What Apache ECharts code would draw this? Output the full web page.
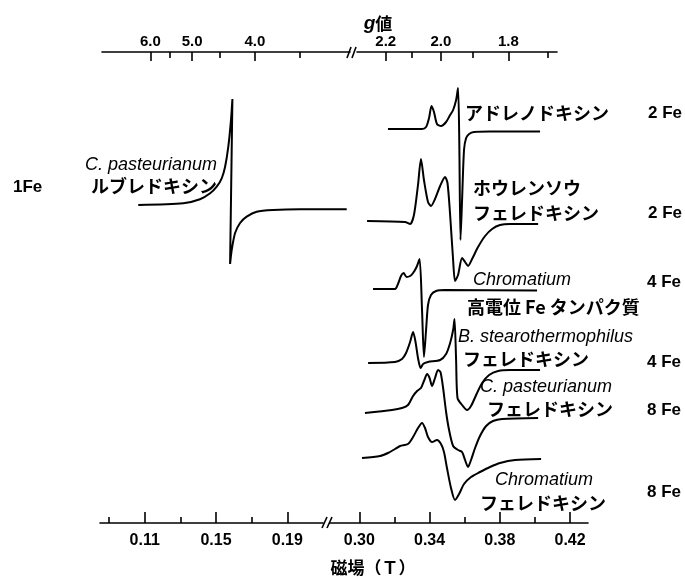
<!DOCTYPE html>
<html><head><meta charset="utf-8">
<script src="https://cdn.jsdelivr.net/npm/echarts@6/dist/echarts.min.js"></script>
<style>html,body{margin:0;padding:0;background:#fff}#c{width:685px;height:581px}</style>
</head><body><div id="c"></div>
<script>
// g·B product (T) for the top g-value axis
const gB = 0.6928;
// bottom axis ticks (T)
const fieldMajorLeft = [0.11, 0.15, 0.19];
const fieldMinorLeft = [0.09, 0.13, 0.17];
const fieldMajorRight = [0.30, 0.34, 0.38, 0.42];
const fieldMinorRight = [0.32, 0.36, 0.40];
// top axis g ticks
const gMajorLeft = [6.0, 5.0, 4.0];
const gMinorLeft = [5.5, 4.5, 3.5];
const gMajorRight = [2.2, 2.0, 1.8];
const gMinorRight = [2.1, 1.9, 1.7];

// spectra: [field (T), signal (arb. units)]
const rubredoxin = [[0.1064,0],[0.1317,1.7],[0.1410,5.7],[0.1467,11.7],[0.1504,18.3],[0.1532,26.7],[0.1551,38.3],[0.1569,58.3],[0.1584,85],[0.1592,106],[0.1579,-59],[0.1588,-45],[0.1607,-28],[0.1635,-18],[0.1672,-11.7],[0.1728,-6.7],[0.1820,-5],[0.1971,-4.3],[0.2233,-4.3]];
const adrenodoxin = [[0.3163,0],[0.3357,0],[0.3380,2],[0.3397,11],[0.3411,23],[0.3425,17],[0.3442,5],[0.3465,3],[0.3494,7],[0.3517,14],[0.3534,19],[0.3551,29],[0.3562,41],[0.3569,-11],[0.3576,-111],[0.3585,-71],[0.3596,-21],[0.3608,-9],[0.3625,-5],[0.3653,-3],[0.3744,-2.5],[0.4029,-2.5]];
const spinachFd = [[0.3044,0],[0.3260,-1],[0.3289,-3],[0.3311,6],[0.3334,36],[0.3351,62],[0.3368,41],[0.3391,19],[0.3408,15],[0.3431,22],[0.3460,35],[0.3488,44],[0.3502,38],[0.3517,6],[0.3534,-39],[0.3545,-60],[0.3562,-54],[0.3585,-37],[0.3602,-41],[0.3619,-45],[0.3642,-38],[0.3676,-26],[0.3716,-15],[0.3756,-8],[0.3801,-4],[0.3858,-3],[0.4018,-3]];
const chromatiumHiPIP = [[0.3078,0],[0.3203,0],[0.3220,5],[0.3237,13],[0.3252,16],[0.3269,12],[0.3289,13],[0.3306,16],[0.3326,22],[0.3343,30],[0.3357,-21],[0.3368,-68],[0.3380,-41],[0.3391,-16],[0.3408,-6],[0.3437,-2],[0.3488,-1],[0.4012,-1.5]];
const bStearoFd = [[0.3050,-1],[0.3203,0],[0.3243,3],[0.3266,9],[0.3289,20],[0.3306,30],[0.3320,20],[0.3334,4],[0.3349,-6],[0.3363,-2],[0.3391,0],[0.3460,2],[0.3494,8],[0.3517,19],[0.3534,32],[0.3542,43],[0.3551,2],[0.3559,-36],[0.3585,-43],[0.3613,-48],[0.3636,-44],[0.3665,-33],[0.3699,-21],[0.3739,-13],[0.3790,-9],[0.3858,-8],[0.4029,-8]];
const cPastFd = [[0.3032,-1],[0.3186,2],[0.3243,4],[0.3277,7],[0.3306,16],[0.3329,21],[0.3351,24],[0.3368,31],[0.3386,38],[0.3400,34],[0.3414,26],[0.3431,34],[0.3448,42],[0.3462,40],[0.3477,24],[0.3494,0],[0.3511,-18],[0.3534,-34],[0.3562,-38],[0.3585,-40],[0.3602,-48],[0.3619,-55],[0.3636,-48],[0.3659,-36],[0.3687,-24],[0.3722,-14],[0.3761,-9],[0.3813,-7],[0.4018,-6]];
const chromatiumFd = [[0.3015,0],[0.3118,2],[0.3163,5],[0.3203,9],[0.3232,12],[0.3277,14],[0.3306,21],[0.3334,30],[0.3357,35],[0.3374,30],[0.3391,21],[0.3414,16],[0.3442,18],[0.3465,14],[0.3482,6],[0.3499,-10],[0.3522,-30],[0.3545,-42],[0.3568,-36],[0.3596,-26],[0.3636,-19],[0.3687,-14],[0.3744,-9],[0.3801,-5],[0.3887,-2],[0.4035,-1]];
// vertical offset of each spectrum's baseline
const offsetsRight = [452, 360, 292, 219, 169, 123];
const offsetLeft = 376;

const spectraRight = [adrenodoxin, spinachFd, chromatiumHiPIP, bStearoFd, cPastFd, chromatiumFd];

const numFont = 'Liberation Sans';

function fieldAxis(grid, min, max, ticks, len, labels) {
  return {
    type: 'value', gridIndex: grid, position: 'bottom', min: min, max: max,
    axisLine: {show: labels, lineStyle: {color: '#000', width: 1.6}},
    axisTick: {show: true, inside: true, length: len, customValues: ticks, lineStyle: {color: '#000', width: 1.6}},
    axisLabel: {show: labels, customValues: ticks, margin: 10, color: '#000', fontFamily: numFont, fontWeight: 'bold', fontSize: 16,
      formatter: v => v.toFixed(2)},
    splitLine: {show: false}
  };
}
function gAxis(grid, min, max, gs, len, labels) {
  return {
    type: 'value', gridIndex: grid, position: 'top', min: min, max: max,
    axisLine: {show: labels, lineStyle: {color: '#000', width: 1.6}},
    axisTick: {show: true, inside: true, length: len, customValues: gs.map(g => gB / g), lineStyle: {color: '#000', width: 1.6}},
    axisLabel: {show: labels, customValues: gs.map(g => gB / g), margin: 3, color: '#000', fontFamily: numFont, fontWeight: 'bold', fontSize: 15,
      formatter: v => (gB / v).toFixed(1)},
    splitLine: {show: false}
  };
}

const yAx = i => ({type: 'value', gridIndex: i, min: 58, max: 581, show: false});

const series = [{
  type: 'line', xAxisIndex: 8, yAxisIndex: 4, clip: false, showSymbol: false, smooth: 0.25,
  lineStyle: {color: '#000', width: 2},
  data: rubredoxin.map(p => [p[0], offsetLeft + p[1]])
}];
spectraRight.forEach((s, i) => {
  series.push({
    type: 'line', xAxisIndex: 2, yAxisIndex: 1, clip: false, showSymbol: false, smooth: 0.25,
    lineStyle: {color: '#000', width: 2},
    data: s.map(p => [p[0], offsetsRight[i] + p[1]])
  });
});

function txt(t, x, y, font, align) {
  return {type: 'text', x: x, y: y, style: {text: t, font: font, fill: '#000', textAlign: align || 'left', textVerticalAlign: 'middle'}};
}
const it = 'italic 18px "Liberation Sans"';
const jp = 'bold 18px "Noto Sans CJK JP"';
const fe = 'bold 17px "Liberation Sans"';

const graphics = [
  // axis breaks
  {type: 'line', shape: {x1: 322, y1: 528, x2: 327, y2: 517}, style: {stroke: '#000', lineWidth: 1.6}},
  {type: 'line', shape: {x1: 327, y1: 528, x2: 332, y2: 517}, style: {stroke: '#000', lineWidth: 1.6}},
  {type: 'line', shape: {x1: 347, y1: 58, x2: 351, y2: 47}, style: {stroke: '#000', lineWidth: 1.6}},
  {type: 'line', shape: {x1: 352, y1: 58, x2: 356, y2: 47}, style: {stroke: '#000', lineWidth: 1.6}},
  // axis titles
  {type: 'text', x: 378, y: 24, style: {text: '{g|g}{k|値}', textAlign: 'center', textVerticalAlign: 'middle',
    rich: {g: {font: 'italic bold 19px "Liberation Sans"', fill: '#000'}, k: {font: 'bold 17px "Noto Sans CJK JP"', fill: '#000'}}}},
  txt('磁場（Ｔ）', 373, 568, 'bold 17px "Noto Sans CJK JP"', 'center'),
  // labels
  txt('1Fe', 13, 187, fe),
  txt('C. pasteurianum', 217, 165, it, 'right'),
  txt('ルブレドキシン', 217, 186, jp, 'right'),
  txt('アドレノドキシン', 465, 113, jp),
  txt('2 Fe', 682, 113, fe, 'right'),
  txt('ホウレンソウ', 473, 188, jp),
  txt('フェレドキシン', 473, 213, jp),
  txt('2 Fe', 682, 213, fe, 'right'),
  txt('Chromatium', 473, 280, it),
  txt('4 Fe', 681, 282, fe, 'right'),
  txt('高電位 Fe タンパク質', 467, 307, jp),
  txt('B. stearothermophilus', 458, 337, it),
  txt('フェレドキシン', 463, 359, jp),
  txt('4 Fe', 681, 362, fe, 'right'),
  txt('C. pasteurianum', 480, 387, it),
  txt('フェレドキシン', 487, 409, jp),
  txt('8 Fe', 681, 410, fe, 'right'),
  txt('Chromatium', 495, 480, it),
  txt('8 Fe', 681, 492, fe, 'right'),
  txt('フェレドキシン', 480, 503, jp)
];

const chart = echarts.init(document.getElementById('c'), null, {renderer: 'canvas'});
chart.setOption({
  animation: false,
  backgroundColor: '#fff',
  grid: [
    {left: 100, width: 223, top: 0, height: 523},
    {left: 330, width: 258, top: 0, height: 523},
    {left: 102, width: 248, top: 52, height: 400},
    {left: 357, width: 200, top: 52, height: 400},
    {left: 100, width: 250, top: 0, height: 523}
  ],
  xAxis: [
    fieldAxis(0, 0.08495, 0.2100, fieldMajorLeft, 11, true),
    fieldAxis(0, 0.08495, 0.2100, fieldMinorLeft, 6, false),
    fieldAxis(1, 0.2833, 0.4302, fieldMajorRight, 11, true),
    fieldAxis(1, 0.2833, 0.4302, fieldMinorRight, 6, false),
    gAxis(2, 0.08873, 0.22575, gMajorLeft, 9, true),
    gAxis(2, 0.08873, 0.22575, gMinorLeft, 6, false),
    gAxis(3, 0.29852, 0.41258, gMajorRight, 9, true),
    gAxis(3, 0.29852, 0.41258, gMinorRight, 6, false),
    {type: 'value', gridIndex: 4, min: 0.08495, max: 0.22514, show: false}
  ],
  yAxis: [yAx(0), yAx(1), yAx(2), yAx(3), yAx(4)],
  series: series,
  graphic: graphics
});
</script></body></html>
